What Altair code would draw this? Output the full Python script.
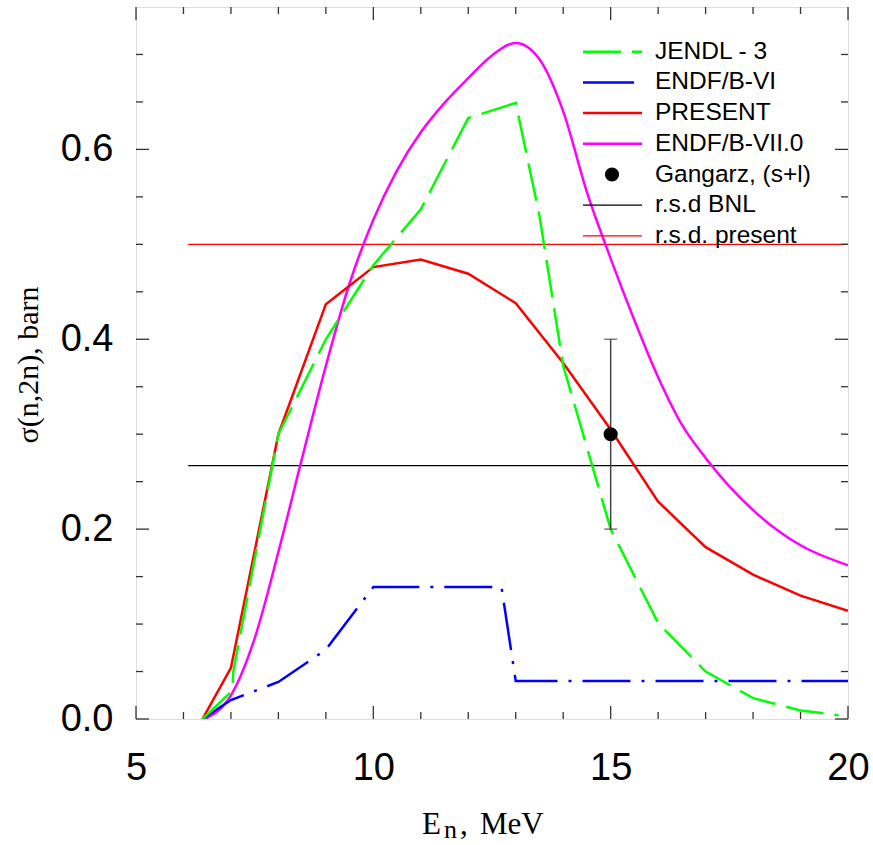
import altair as alt
import pandas as pd

# ---------------- data ----------------
jendl_x = [6.4, 7.03, 7.05, 8, 9, 10, 11, 12, 13, 13.5, 14, 15, 16, 17, 18, 19, 19.8]
jendl_y = [0.0, 0.03, 0.05, 0.30, 0.40, 0.478, 0.537, 0.633, 0.649, 0.53, 0.372, 0.20, 0.101, 0.05, 0.022, 0.009, 0.004]

endf6_x = [6.4, 7, 8, 9, 10, 12.7, 13, 20]
endf6_y = [0.0, 0.02, 0.039, 0.073, 0.139, 0.139, 0.04, 0.04]

present_x = [6.4, 7, 8, 9, 10, 11, 12, 13, 14, 15, 16, 17, 18, 19, 20]
present_y = [0.0, 0.054, 0.30, 0.437, 0.476, 0.484, 0.469, 0.438, 0.375, 0.305, 0.229, 0.181, 0.152, 0.13, 0.114]

endf7_x = [6.45, 7, 7.5, 8, 8.5, 9, 9.5, 10, 10.5, 11, 11.5, 12, 12.5, 13, 13.5, 14, 14.5, 15, 15.5, 16, 16.5, 17, 18, 19, 20]
endf7_y = [0.0, 0.025, 0.085, 0.176, 0.275, 0.372, 0.459, 0.526, 0.578, 0.618, 0.649, 0.675, 0.699, 0.712, 0.695, 0.64, 0.555, 0.485, 0.42, 0.36, 0.31, 0.275, 0.22, 0.183, 0.162]

gangarz_x = [15.0]
gangarz_y = [0.30]
gangarz_lo = [0.20]
gangarz_hi = [0.40]

rsd_x_start = 6.1
rsd_x_end = 20.0
rsd_bnl_y = 0.267
rsd_present_y = 0.50

x_major = [5, 10, 15, 20]
x_minor = [6, 7, 8, 9, 11, 12, 13, 14, 16, 17, 18, 19]
y_major = [0.0, 0.2, 0.4, 0.6]
y_minor = [0.05, 0.1, 0.15, 0.25, 0.3, 0.35, 0.45, 0.5, 0.55, 0.65, 0.7]

legend_labels = ["JENDL - 3", "ENDF/B-VI", "PRESENT", "ENDF/B-VII.0",
                 "Gangarz, (s+l)", "r.s.d BNL", "r.s.d. present"]
y_title = "σ(n,2n), barn"
x_title_main = "E"
x_title_sub = "n"
x_title_comma = ","
x_title_unit = "MeV"

# ---------------- styling ----------------
W = 712
H = 712
SANS = "Liberation Sans"
SERIF = "Liberation Serif"
GREEN = "#00ff00"
BLUE = "#0000ff"
RED = "#ff0000"
MAGENTA = "#ff00ff"
GREEN_DASH = [38, 11]
BLUE_DASH = [48, 11, 3, 11]

xs = alt.Scale(domain=[5, 20], nice=False, zero=False)
ys = alt.Scale(domain=[0, 0.75], nice=False, zero=False)

ax_x = alt.Axis(values=x_major, grid=False, ticks=False, domain=False, title=None,
                labelFont=SANS, labelFontSize=38, labelColor="black", labelPadding=30,
                labelFlush=False, labelOverlap=False)
ax_y = alt.Axis(values=y_major, format=".1f", grid=False, ticks=False, domain=False, title=None,
                labelFont=SANS, labelFontSize=38, labelColor="black", labelPadding=23,
                labelFlush=False, labelOverlap=False)


def X(f):
    return alt.X(f, type="quantitative", scale=xs, axis=ax_x)


def Y(f):
    return alt.Y(f, type="quantitative", scale=ys, axis=ax_y)


def line(xv, yv, color, dash=None, width=2.5, interp="linear"):
    df = pd.DataFrame({"x": xv, "y": yv})
    kw = dict(color=color, strokeWidth=width, interpolate=interp, clip=True)
    if dash:
        kw["strokeDash"] = dash
    return alt.Chart(df).mark_line(**kw).encode(x=X("x"), y=Y("y"), order="x:Q")


layers = []

# horizontal r.s.d. lines
rsd = pd.DataFrame({"x": [rsd_x_start, rsd_x_start], "x2": [rsd_x_end, rsd_x_end],
                    "y": [rsd_bnl_y, rsd_present_y], "c": ["black", "red"]})
layers.append(alt.Chart(rsd).mark_rule(strokeWidth=1.2).encode(
    x=X("x"), x2="x2:Q", y=Y("y"), color=alt.Color("c:N", scale=None)))

layers.append(line(endf7_x, endf7_y, MAGENTA, interp="monotone"))
layers.append(line(present_x, present_y, RED))
layers.append(line(endf6_x, endf6_y, BLUE, dash=BLUE_DASH))
layers.append(line(jendl_x, jendl_y, GREEN, dash=GREEN_DASH))

# experimental point with error bar
gz = pd.DataFrame({"x": gangarz_x, "y": gangarz_y, "lo": gangarz_lo, "hi": gangarz_hi})
layers.append(alt.Chart(gz).mark_errorbar(ticks=True, color="#444444", thickness=1.5, size=13).encode(
    x=X("x"), y=Y("lo"), y2="hi:Q"))
layers.append(alt.Chart(gz).mark_point(filled=True, size=200, color="black", opacity=1).encode(
    x=X("x"), y=Y("y")))

# inward ticks on all four sides
TICK_COLOR = "#333333"
MAJ = 13
MIN = 7
for vals, ln in [(x_major, MAJ), (x_minor, MIN)]:
    d = pd.DataFrame({"v": vals})
    layers.append(alt.Chart(d).mark_rule(color=TICK_COLOR, strokeWidth=1.3).encode(
        x=X("v"), y=alt.value(H), y2=alt.value(H - ln)))
    layers.append(alt.Chart(d).mark_rule(color=TICK_COLOR, strokeWidth=1.3).encode(
        x=X("v"), y=alt.value(0), y2=alt.value(ln)))
for vals, ln in [(y_major, MAJ), (y_minor, MIN)]:
    d = pd.DataFrame({"v": vals})
    layers.append(alt.Chart(d).mark_rule(color=TICK_COLOR, strokeWidth=1.3).encode(
        y=Y("v"), x=alt.value(0), x2=alt.value(ln)))
    layers.append(alt.Chart(d).mark_rule(color=TICK_COLOR, strokeWidth=1.3).encode(
        y=Y("v"), x=alt.value(W), x2=alt.value(W - ln)))

# manual legend
dummy = pd.DataFrame({"a": [0]})
leg_y0 = 44.7
leg_dy = 30.7
sym_x1 = 447
text_x = 519
leg_styles = [
    dict(kind="line", color=GREEN, dash=GREEN_DASH, width=2.5, x2=506),
    dict(kind="line", color=BLUE, dash=None, width=2.5, x2=498),
    dict(kind="line", color=RED, dash=None, width=2.5, x2=506),
    dict(kind="line", color=MAGENTA, dash=None, width=2.5, x2=506),
    dict(kind="point"),
    dict(kind="line", color="black", dash=None, width=1.2, x2=506),
    dict(kind="line", color="red", dash=None, width=1.2, x2=506),
]
for i, (lab, st) in enumerate(zip(legend_labels, leg_styles)):
    yy = leg_y0 + leg_dy * i
    if st["kind"] == "line":
        kw = dict(color=st["color"], strokeWidth=st["width"])
        if st["dash"]:
            kw["strokeDash"] = st["dash"]
        layers.append(alt.Chart(dummy).mark_rule(**kw).encode(
            x=alt.value(sym_x1), x2=alt.value(st["x2"]), y=alt.value(yy)))
    else:
        layers.append(alt.Chart(dummy).mark_point(filled=True, size=200, color="black", opacity=1).encode(
            x=alt.value(476), y=alt.value(yy)))
    layers.append(alt.Chart(dummy).mark_text(font=SANS, fontSize=24.5, align="left", baseline="middle",
                                             color="black").encode(
        x=alt.value(text_x), y=alt.value(yy), text=alt.value(lab)))

# axis titles (serif, with subscript)
layers.append(alt.Chart(dummy).mark_text(font=SERIF, fontSize=30, align="center", baseline="middle",
                                         angle=270, color="black").encode(
    x=alt.value(-107), y=alt.value(358), text=alt.value(y_title)))
for txt, xx, yy, fs in [(x_title_main, 286, 827, 31), (x_title_sub, 308, 831, 26),
                        (x_title_comma, 324, 827, 31), (x_title_unit, 344, 827, 31)]:
    layers.append(alt.Chart(dummy).mark_text(font=SERIF, fontSize=fs, align="left", baseline="alphabetic",
                                             color="black").encode(
        x=alt.value(xx), y=alt.value(yy), text=alt.value(txt)))

chart = alt.layer(*layers).properties(
    width=W, height=H,
    autosize=alt.AutoSizeParams(type="none"),
    padding={"left": 136, "top": 7, "right": 25, "bottom": 126},
).configure_view(stroke="black", strokeWidth=2).configure(background="white")

chart.save("out.html", embed_options={"renderer": "svg", "actions": False})
